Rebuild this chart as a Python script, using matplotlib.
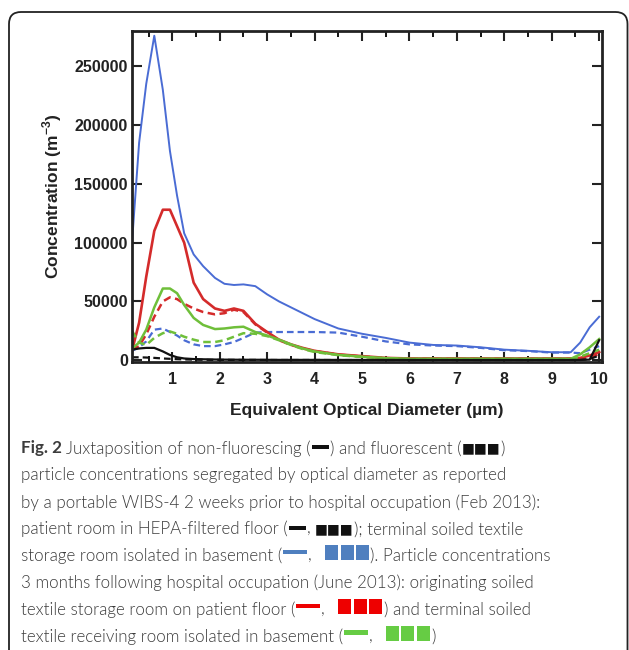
import matplotlib
matplotlib.use("Agg")
import matplotlib.pyplot as plt
from matplotlib.patches import FancyBboxPatch, Rectangle
from matplotlib.ticker import MultipleLocator

# optical diameter (um)
diam = [0.15, 0.3, 0.45, 0.62, 0.8, 0.95, 1.1, 1.25, 1.45, 1.65, 1.9, 2.1, 2.3, 2.5, 2.75,
        3.0, 3.25, 3.5, 3.75, 4.0, 4.5, 5.0, 5.5, 6.0, 6.5, 7.0, 7.5, 8.0, 8.5, 9.0, 9.4,
        9.6, 9.8, 10.0]

# patient room, HEPA floor (Feb 2013)
patient_nf = [9000, 10000, 10500, 10500, 7500, 4500, 2500, 1500, 1000, 800, 600, 500, 450, 400, 400,
              350, 300, 300, 300, 300, 250, 250, 250, 250, 200, 200, 200, 200, 200, 200, 200,
              300, 500, 17000]
patient_fl = [2500, 2500, 2300, 2000, 1500, 1200, 900, 700, 500, 400, 300, 300, 300, 250, 250,
              200, 200, 200, 200, 200, 150, 150, 150, 150, 150, 150, 150, 150, 150, 150, 150,
              200, 1000, 4000]
# terminal soiled textile storage, basement (Feb 2013)
storage_nf = [100000, 185000, 235000, 276000, 230000, 178000, 140000, 108000, 90000, 80000, 70000, 65000, 64000, 64500, 63000,
              56000, 50000, 45000, 40000, 35000, 27000, 22500, 19000, 15000, 13000, 12500, 11000, 9000, 8000, 6800, 6800,
              15000, 28000, 37000]
storage_fl = [8000, 11000, 16000, 26000, 27000, 24000, 21000, 17000, 13500, 12000, 12000, 13500, 15500, 19000, 23500,
              24000, 24000, 24000, 24000, 24000, 23500, 20000, 16000, 13500, 12500, 12000, 10500, 8500, 7800, 6500, 6500,
              6000, 9000, 12000]
# originating soiled textile storage, patient floor (June 2013)
origin_nf = [8000, 32000, 71000, 110000, 128000, 128000, 114000, 100000, 66000, 52000, 44000, 42000, 44000, 42000, 31000,
             24000, 17500, 13500, 10500, 8000, 5000, 3500, 2000, 1500, 1500, 1500, 1500, 1500, 1500, 1500, 1500,
             2000, 4000, 7000]
origin_fl = [9000, 12000, 22000, 37000, 50000, 53500, 52000, 48000, 44000, 41000, 39000, 40000, 43000, 41000, 30500,
             23500, 17000, 13000, 10000, 7800, 4800, 3200, 1800, 1200, 1200, 1200, 1200, 1200, 1200, 1200, 1200,
             1500, 3000, 5000]
# terminal soiled textile receiving, basement (June 2013)
receiving_nf = [10000, 15000, 26000, 45000, 61000, 61000, 57000, 47000, 36000, 30000, 26500, 27000, 28000, 28500, 24000,
                21000, 17500, 13500, 10000, 7500, 4500, 3000, 1800, 1200, 1200, 1200, 1200, 1200, 1200, 1200, 1200,
                5000, 11000, 18000]
receiving_fl = [25000, 15000, 13000, 19000, 23000, 24500, 22500, 20000, 17500, 15500, 15500, 17000, 20000, 23000, 22500,
                20500, 17000, 13000, 9500, 7000, 4300, 2800, 1600, 1000, 1000, 1000, 1000, 1000, 1000, 1000, 1000,
                3000, 6000, 9000]

x_ticks = [1, 2, 3, 4, 5, 6, 7, 8, 9, 10]
y_ticks = [0, 50000, 100000, 150000, 200000, 250000]

BLUE, RED, GREEN, BLACK = "#4a6cd4", "#d42b2b", "#6fbf3a", "#111111"
DASH = (0, (3, 1.8))

plt.rcParams['font.family'] = ['Liberation Sans', 'DejaVu Sans']
plt.rcParams['mathtext.fontset'] = 'custom'
plt.rcParams['mathtext.rm'] = 'Liberation Sans:bold'
plt.rcParams['mathtext.bf'] = 'Liberation Sans:bold'

W, H = 629, 650
fig = plt.figure(figsize=(W / 100, H / 100), dpi=100)

# rounded frame around the figure (bottom runs off the image)
frame = FancyBboxPatch((9, -30), 618.5, 650 - 12 + 30, boxstyle="round,pad=0,rounding_size=12",
                       transform=None, fill=False, ec="#222222", lw=1.3)
fig.patches.append(frame)

ax = fig.add_axes([132 / W, 1 - 362 / H, 470 / W, 331 / H])
ax.plot(diam, storage_nf, color=BLUE, lw=1.4)
ax.plot(diam, storage_fl, color=BLUE, lw=1.6, ls=DASH)
ax.plot(diam, origin_nf, color=RED, lw=1.9)
ax.plot(diam, origin_fl, color=RED, lw=1.8, ls=DASH)
ax.plot(diam, receiving_nf, color=GREEN, lw=1.8)
ax.plot(diam, receiving_fl, color=GREEN, lw=1.8, ls=DASH)
ax.plot(diam, patient_nf, color=BLACK, lw=1.6)
ax.plot(diam, patient_fl, color=BLACK, lw=1.6, ls=DASH)

ax.set_xlim(0.15, 10.06)
ax.set_ylim(-1500, 280000)
ax.set_xticks(x_ticks)
ax.set_yticks(y_ticks)
ax.xaxis.set_minor_locator(MultipleLocator(0.5))
ax.tick_params(direction="in", top=True, right=True, width=1.5, length=7, colors="#222222",
               labelsize=11.5, labelcolor="#222222")
ax.tick_params(axis="x", pad=7)
ax.tick_params(axis="y", pad=3)
ax.tick_params(which="minor", direction="in", top=True, width=1.3, length=4)
for lbl in ax.get_xticklabels() + ax.get_yticklabels():
    lbl.set_fontweight("bold")
for s in ax.spines.values():
    s.set_linewidth(2)
    s.set_color("#222222")

ax.set_xlabel("Equivalent Optical Diameter (µm)", fontsize=12.5, fontweight="bold", color="#222222")
ax.xaxis.set_label_coords(0.5, (362 - 411) / 331)
ax.xaxis.label.set_va("center")
ax.set_ylabel("Concentration (m$^{\\mathbf{-3}}$)", fontsize=12.5, fontweight="bold", color="#222222")
ax.yaxis.set_label_coords((52 - 132) / 470, 0.5)
ax.yaxis.label.set_va("center")

# caption, written piece by piece so the colour keys sit inside the text
renderer = fig.canvas.get_renderer()
CAP_FONT = ["Lato", "DejaVu Sans"]
CAP_COL = "#3c3c3c"
CAP_WT = 300


def text_w(s, **kw):
    t = fig.text(0, 0, s, **kw)
    w = t.get_window_extent(renderer).width
    t.remove()
    return w


probe = "particle concentrations segregated by optical diameter as reported"
cap_size = 12 * 487 / text_w(probe, family=CAP_FONT, fontsize=12, fontweight=CAP_WT)
space_w = (text_w("a a", family=CAP_FONT, fontsize=cap_size, fontweight=CAP_WT)
           - text_w("aa", family=CAP_FONT, fontsize=cap_size, fontweight=CAP_WT))


def T(s, wt=CAP_WT):
    return ("text", s, CAP_COL, wt, CAP_FONT)


SQUARES = ("text", "■■■", "#111111", "normal", ["DejaVu Sans"])
DASHKEY = ("dash",)


def SW(col):
    return ("swatch", col)


caption = [
    [T("Fig. 2", "bold"), T(" Juxtaposition of non-fluorescing ("), DASHKEY, T(") and fluorescent ("),
     SQUARES, T(")")],
    [T(probe)],
    [T("by a portable WIBS-4 2 weeks prior to hospital occupation (Feb 2013):")],
    [T("patient room in HEPA-filtered floor ("), DASHKEY, T(", "), SQUARES,
     T("); terminal soiled textile")],
    [T("storage room isolated in basement ("), SW("#4f7fbf"), T("). Particle concentrations")],
    [T("3 months following hospital occupation (June 2013): originating soiled")],
    [T("textile storage room on patient floor ("), SW("#ee0000"), T(") and terminal soiled")],
    [T("textile receiving room isolated in basement ("), SW("#66cc44"), T(")")],
]

y_line = 447
for pieces in caption:
    x = 21
    for p in pieces:
        if p[0] == "dash":
            fig.patches.append(Rectangle((x + 1, H - y_line - 2), 17, 4, transform=None,
                                         color="#111111", lw=0))
            x += 19
            continue
        if p[0] == "swatch":
            col = p[1]
            # colour bar, comma, three squares
            fig.patches.append(Rectangle((x + 1, H - y_line + 0.3), 24, 4.5, transform=None,
                                         color=col, lw=0))
            x += 26
            t = fig.text(x / W, 1 - y_line / H, ",", family=CAP_FONT, fontsize=cap_size,
                         fontweight=CAP_WT, color=CAP_COL, va="center_baseline", ha="left")
            x += t.get_window_extent(renderer).width + 13
            for i in range(3):
                fig.patches.append(Rectangle((x + i * 15.5, H - y_line - 5.4), 13, 15, transform=None,
                                             color=col, lw=0))
            x += 3 * 15.5 - 1
            continue
        _, txt, col, wt, fam = p
        size = cap_size * (0.8 if txt == "■■■" else 1.0)
        lead = len(txt) - len(txt.lstrip(" "))
        trail = len(txt) - len(txt.rstrip(" "))
        core = txt.strip(" ")
        x += lead * space_w
        t = fig.text(x / W, 1 - y_line / H, core, family=fam, fontsize=size, fontweight=wt,
                     color=col, va="center_baseline", ha="left")
        x += t.get_window_extent(renderer).width + trail * space_w
    y_line += 26.9

fig.savefig("out.png", dpi=100)
